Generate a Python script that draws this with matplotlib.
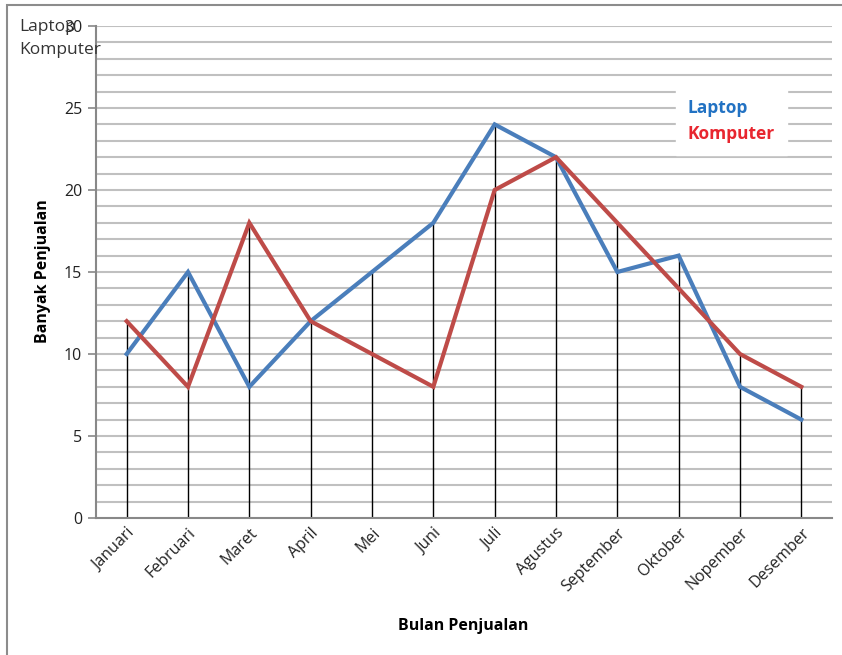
import numpy as np
import matplotlib.pyplot as plt
from matplotlib.patches import Rectangle
from matplotlib.lines import Line2D

bulan = ["Januari", "Februari", "Maret", "April", "Mei", "Juni", "Juli",
         "Agustus", "September", "Oktober", "Nopember", "Desember"]
laptop = [10, 15, 8, 12, 15, 18, 24, 22, 15, 16, 8, 6]
komputer = [12, 8, 18, 12, 10, 8, 20, 22, 18, 14, 10, 8]

plt.rcParams["font.family"] = ["Open Sans", "DejaVu Sans"]

fig = plt.figure(figsize=(8.42, 6.55), dpi=100)
ax = fig.add_axes([96 / 842, 1 - 518 / 655, 736 / 842, 492 / 655])

x = np.arange(len(bulan)) + 0.5

# gridlines every 1 unit
for v in range(1, 31):
    ax.axhline(v, color="#C0C0C0", lw=1.5, zorder=0)

# drop lines from the higher series down to zero
top = np.maximum(laptop, komputer)
ax.vlines(x, 0, top, color="black", lw=1, zorder=1)

ax.plot(x, laptop, color="#4A7EBB", lw=3, zorder=3, solid_joinstyle="miter")
ax.plot(x, komputer, color="#BE4B48", lw=3, zorder=3, solid_joinstyle="miter")

ax.set_xlim(0, 12)
ax.set_ylim(0, 30)
ax.set_yticks(range(0, 31, 5))
ax.set_xticks(x)
ax.set_xticklabels(bulan, rotation=45, ha="right", rotation_mode="anchor",
                   fontsize=11.5, color="#222222")
ax.tick_params(axis="x", length=0, pad=5)
ax.tick_params(axis="y", length=6, width=1.2, color="#888888",
               labelsize=11.5, labelcolor="#222222", pad=4)
for s in ["top", "right"]:
    ax.spines[s].set_visible(False)
ax.spines["left"].set_color("#888888")
ax.spines["bottom"].set_color("#888888")
ax.spines["left"].set_linewidth(1.5)
ax.spines["bottom"].set_linewidth(1.5)

ax.set_ylabel("Banyak Penjualan", fontsize=11.5, fontweight="bold", va="center")
ax.set_xlabel("Bulan Penjualan", fontsize=11.5, fontweight="bold", va="center")
ax.xaxis.set_label_coords((463 - 96) / 736, -(626 - 518) / 492)
ax.yaxis.set_label_coords(-(96 - 43) / 736, (518 - 271) / 492)

# legend: text only
handles = [Line2D([], [], lw=0), Line2D([], [], lw=0)]
leg = ax.legend(handles, ["Laptop", "Komputer"], loc="upper left",
                bbox_to_anchor=((667 - 96) / 736, (518 - 78) / 492),
                handlelength=0, handletextpad=0, frameon=True,
                fancybox=False, edgecolor="white", framealpha=1,
                borderpad=0.7, labelspacing=0.45,
                prop={"weight": "bold", "size": 12.5})
leg.get_texts()[0].set_color("#2272C3")
leg.get_texts()[1].set_color("#E8262F")

# series titles at top left
fig.text(19 / 842, 1 - 27 / 655, "Laptop", fontsize=12.5, color="#333333",
         va="center", ha="left")
fig.text(19 / 842, 1 - 50 / 655, "Komputer", fontsize=12.5, color="#333333",
         va="center", ha="left")

# outer frame
fig.patches.append(Rectangle((7 / 842, -0.1), 1.2, 1 - 5 / 655 + 0.1,
                             transform=fig.transFigure, fill=False,
                             edgecolor="#8C8C8C", lw=1.5))

fig.savefig("out.png", dpi=100)
